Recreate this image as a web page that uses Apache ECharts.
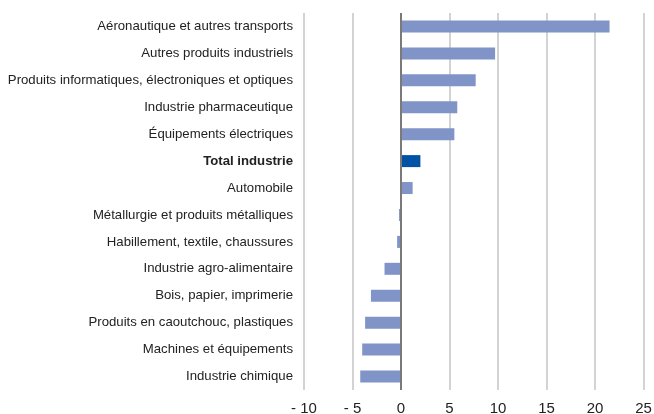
<!DOCTYPE html>
<html>
<head>
<meta charset="utf-8">
<script src="https://cdn.jsdelivr.net/npm/echarts@6/dist/echarts.min.js"></script>
<style>
  html, body { margin:0; padding:0; background:#fff; }
  #chart { width:654px; height:414px; }
</style>
</head>
<body>
<div id="chart"></div>
<script>
// secteurs, de haut en bas
var categories = [
  'Aéronautique et autres transports',
  'Autres produits industriels',
  'Produits informatiques, électroniques et optiques',
  'Industrie pharmaceutique',
  'Équipements électriques',
  'Total industrie',
  'Automobile',
  'Métallurgie et produits métalliques',
  'Habillement, textile, chaussures',
  'Industrie agro-alimentaire',
  'Bois, papier, imprimerie',
  'Produits en caoutchouc, plastiques',
  'Machines et équipements',
  'Industrie chimique'
];
var values = [21.5, 9.7, 7.7, 5.8, 5.5, 2.0, 1.2, -0.2, -0.4, -1.7, -3.1, -3.7, -4.0, -4.2];
var totalLabel = 'Total industrie';
var xTicks = [-10, -5, 0, 5, 10, 15, 20, 25];

var FONT = '"Liberation Sans", Arial, sans-serif';

var chart = echarts.init(document.getElementById('chart'));
var option = {
  animation: false,
  backgroundColor: '#fff',
  grid: { left: 304, right: 10.5, top: 13, bottom: 24, containLabel: false, outerBoundsMode: 'none' },
  xAxis: {
    type: 'value',
    min: xTicks[0],
    max: xTicks[xTicks.length - 1],
    interval: 5,
    axisLine: { show: false },
    axisTick: { show: false },
    splitLine: { show: true, lineStyle: { color: '#c4c4c4', width: 1.5 } },
    axisLabel: {
      margin: 11,
      fontFamily: FONT,
      fontSize: 15,
      color: '#222',
      formatter: function (v) { return v < 0 ? '- ' + Math.abs(v) : String(v); }
    }
  },
  yAxis: {
    type: 'category',
    inverse: true,
    data: categories,
    axisLine: { show: false },
    axisTick: { show: false },
    axisLabel: {
      margin: 11,
      fontFamily: FONT,
      fontSize: 13.2,
      color: '#222',
      formatter: function (v) { return v === totalLabel ? '{b|' + v + '}' : v; },
      rich: { b: { fontWeight: 'bold', fontFamily: FONT, fontSize: 13.2, color: '#222' } }
    }
  },
  series: [{
    type: 'bar',
    barWidth: 12,
    data: values.map(function (v, i) {
      return {
        value: v,
        itemStyle: { color: categories[i] === totalLabel ? '#0052a5' : '#8094c8' }
      };
    }),
    markLine: {
      silent: true,
      symbol: 'none',
      label: { show: false },
      lineStyle: { color: '#7a7a7a', width: 2, type: 'solid' },
      data: [{ xAxis: 0 }]
    }
  }]
};
chart.setOption(option);
</script>
</body>
</html>
